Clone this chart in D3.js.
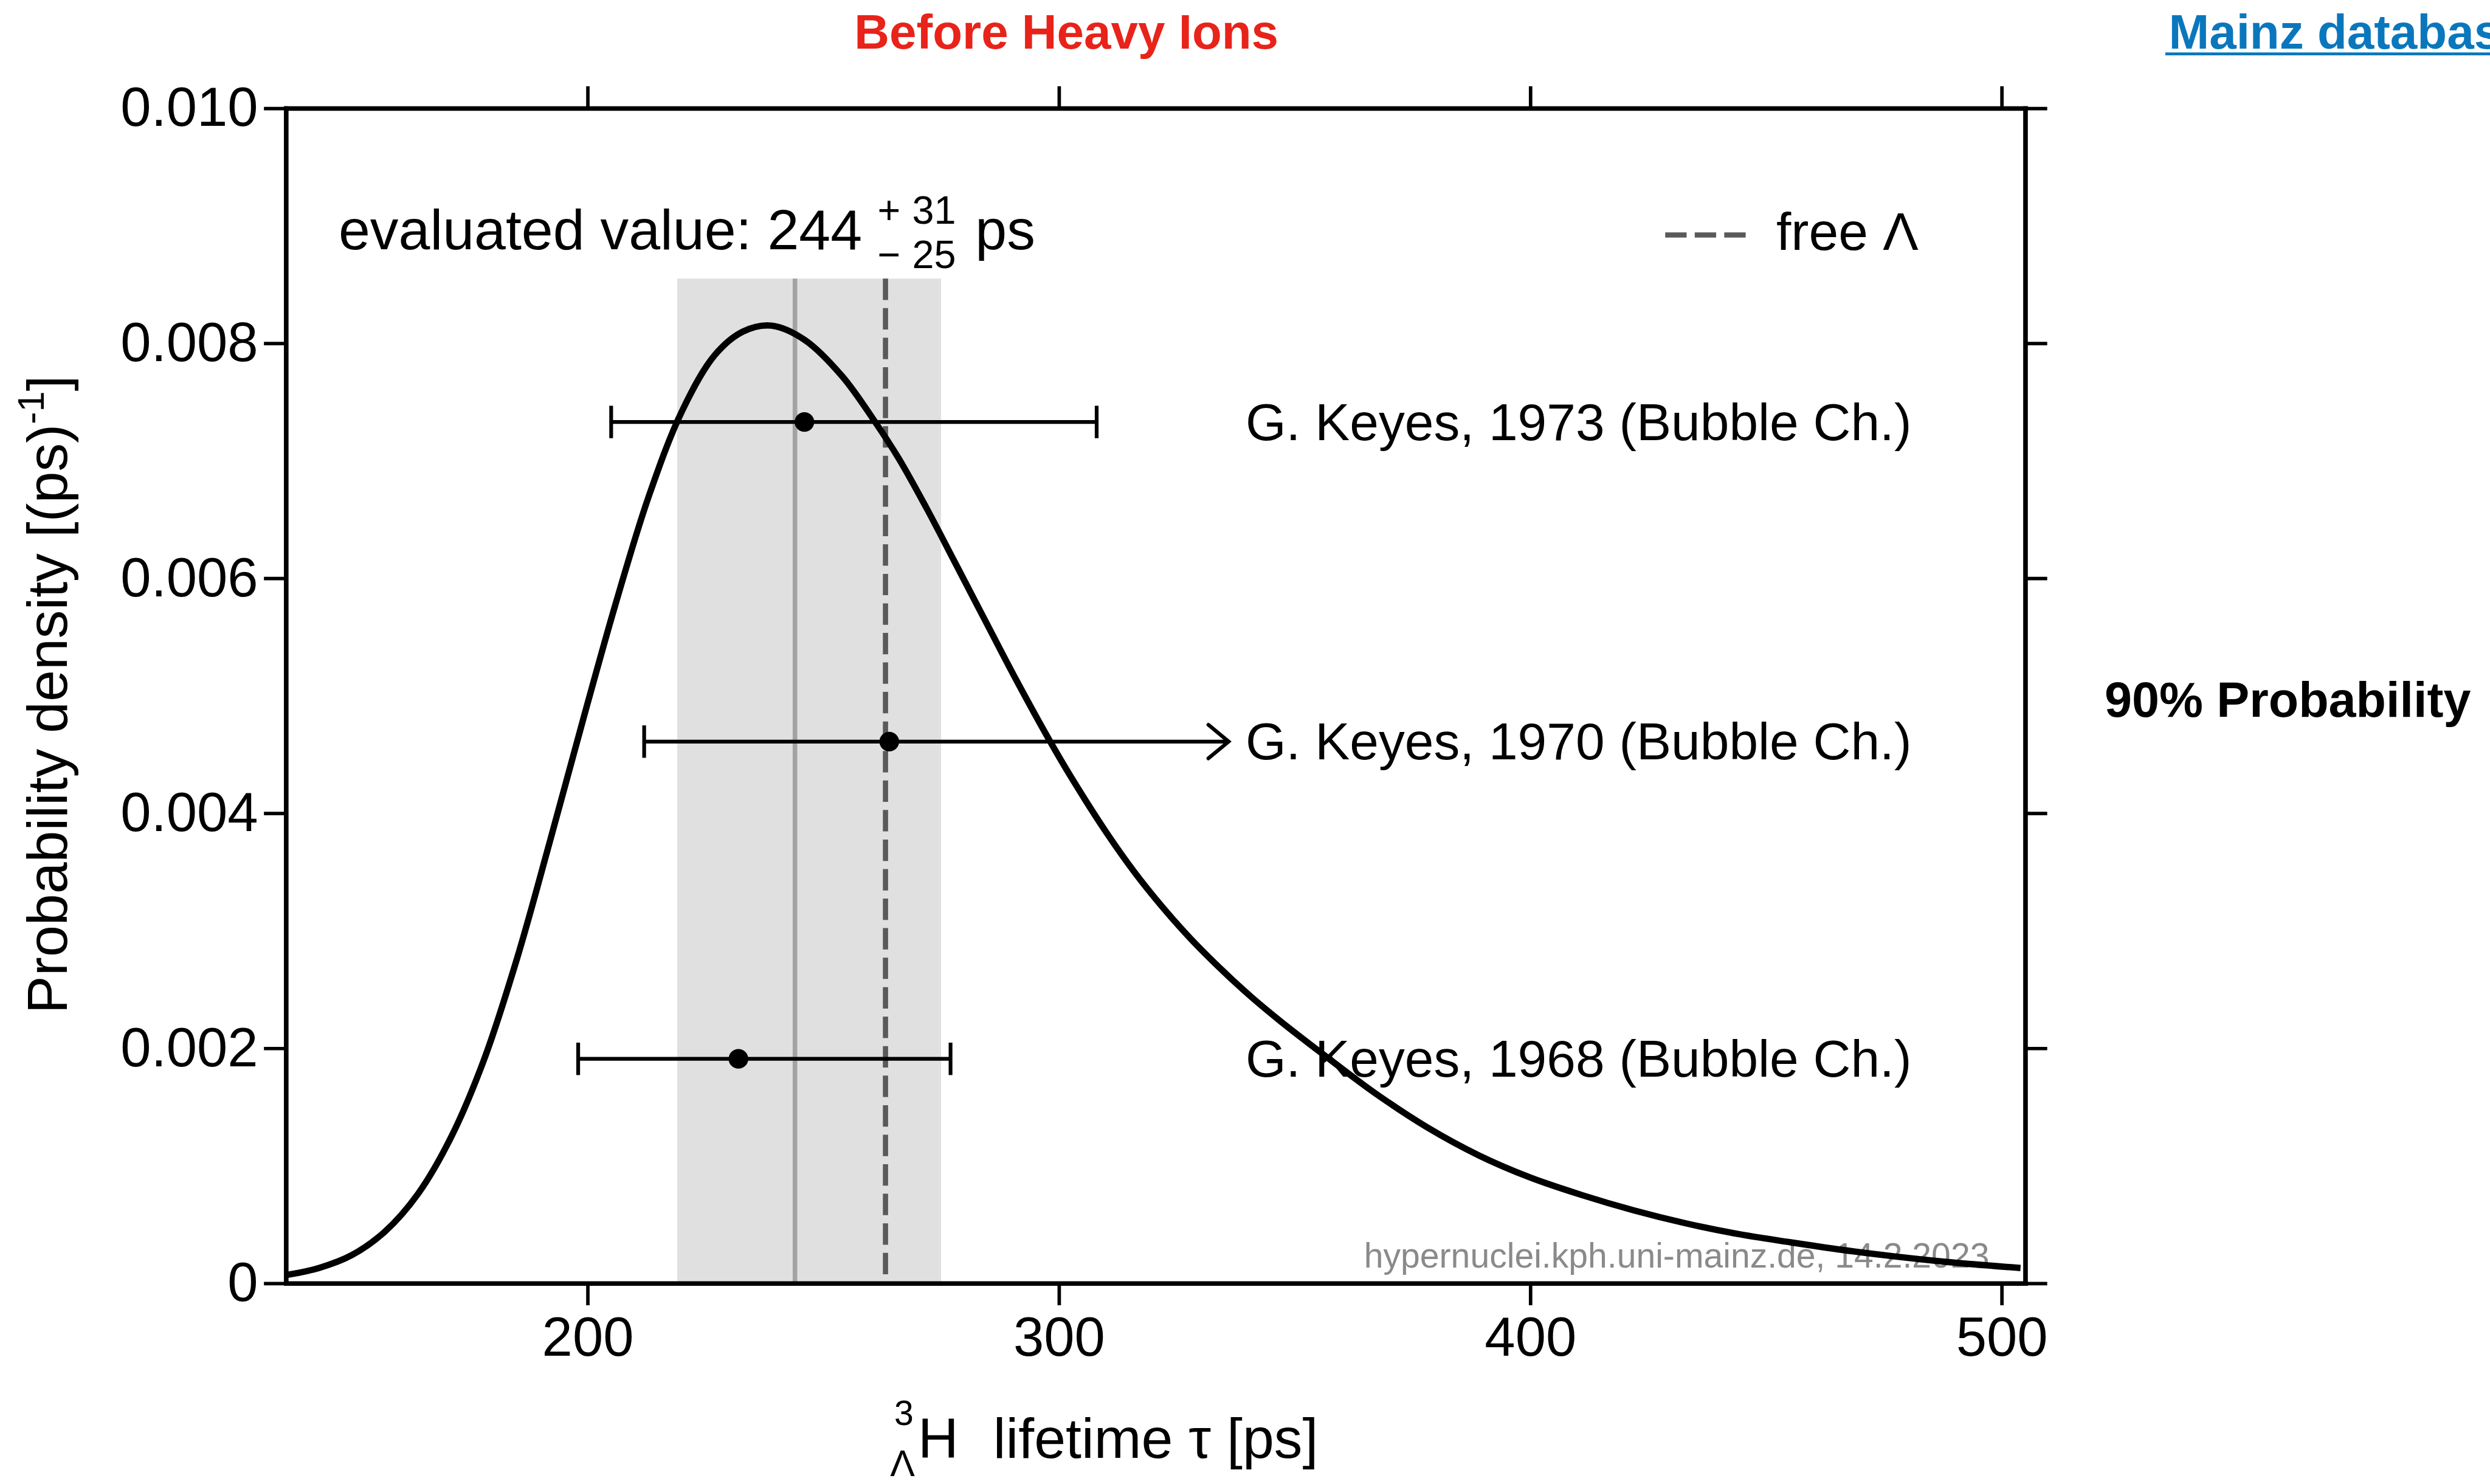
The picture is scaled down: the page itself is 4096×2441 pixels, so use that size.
<!DOCTYPE html>
<html>
<head>
<meta charset="utf-8">
<script src="https://cdn.jsdelivr.net/npm/d3@7"></script>
<style>
  html, body { margin: 0; padding: 0; background: #fff; overflow: hidden; }
  text { font-family: "Liberation Sans", Arial, Helvetica, sans-serif; }
</style>
</head>
<body>
<svg id="chart" width="4096" height="2441"></svg>
<script>
// Evaluated probability density of the hypertriton lifetime (τ in ps)
const tauGrid = [136, 143, 150, 157, 164, 171, 178, 185, 192, 199, 206, 213, 220, 227, 233, 239,
  246, 254, 261, 266, 272, 278, 285, 291, 298, 303, 310, 316, 322, 328, 335, 341, 347, 356,
  367, 378, 389, 400, 411, 422, 433, 444, 455, 466, 477, 488, 504];
const densityValues = [0.00007, 0.00013, 0.00024, 0.00044, 0.00076, 0.00124, 0.00190, 0.00276,
  0.00376, 0.00479, 0.00579, 0.00670, 0.00742, 0.00790, 0.00810, 0.00815,
  0.00803, 0.00772, 0.00733, 0.00702, 0.00659, 0.00613, 0.00559, 0.00513, 0.00462, 0.00428,
  0.00384, 0.00350, 0.00320, 0.00293, 0.00265, 0.00243, 0.00223, 0.00195,
  0.00162, 0.00133, 0.00109, 0.00090, 0.00075, 0.00062, 0.00051, 0.00042, 0.00035, 0.000285,
  0.00023, 0.000183, 0.00013];

// Individual measurements
const refLabels = ["G. Keyes, 1973 (Bubble Ch.)", "G. Keyes, 1970 (Bubble Ch.)", "G. Keyes, 1968 (Bubble Ch.)"];
const refValues = [246, 264, 232];
const refLow = [205, 212, 198];
const refHigh = [308, 336, 277];
const refOpenHigh = [false, true, false];
const refRowY = [0.00733, 0.00461, 0.00191];

// Evaluated value and its interval, free Λ lifetime
const evaluatedValue = 244;
const evaluatedPlus = 31;
const evaluatedMinus = 25;
const freeLambda = 263.2;
const bandTop = 0.00855;

const xTickValues = [200, 300, 400, 500];
const yTickValues = [0, 0.002, 0.004, 0.006, 0.008, 0.010];

// ---------------------------------------------------------------
const k = 4096 / 4302;
const svg = d3.select("#chart");
svg.append("rect").attr("width", 4096).attr("height", 2441).attr("fill", "#fff");
const root = svg.append("g").attr("transform", `scale(${k})`);

const x = d3.scaleLinear().domain([136, 505]).range([494, 3499]);
const y = d3.scaleLinear().domain([0, 0.010]).range([2217, 187]);

// interval band
root.append("rect")
  .attr("x", x(evaluatedValue - evaluatedMinus))
  .attr("width", x(evaluatedValue + evaluatedPlus) - x(evaluatedValue - evaluatedMinus))
  .attr("y", y(bandTop))
  .attr("height", y(0) - y(bandTop))
  .attr("fill", "#e0e0e0");

// evaluated central value
root.append("line")
  .attr("x1", x(evaluatedValue)).attr("x2", x(evaluatedValue))
  .attr("y1", y(bandTop)).attr("y2", y(0))
  .attr("stroke", "#a3a3a3").attr("stroke-width", 8);

// free Λ lifetime
root.append("line")
  .attr("x1", x(freeLambda)).attr("x2", x(freeLambda))
  .attr("y1", y(bandTop)).attr("y2", y(0))
  .attr("stroke", "#5a5a5a").attr("stroke-width", 9)
  .attr("stroke-dasharray", "37 14");

// source note
root.append("text")
  .attr("x", 3437).attr("y", 2190)
  .attr("text-anchor", "end")
  .attr("font-size", 60)
  .attr("fill", "#8a8a8a")
  .text("hypernuclei.kph.uni-mainz.de, 14.2.2023");

// density curve
const line = d3.line()
  .x(d => x(d[0]))
  .y(d => y(d[1]))
  .curve(d3.curveCatmullRom.alpha(0.5));
root.append("path")
  .datum(d3.zip(tauGrid, densityValues))
  .attr("d", line)
  .attr("fill", "none")
  .attr("stroke", "#000")
  .attr("stroke-width", 11)
  .attr("stroke-linecap", "butt")
  .attr("stroke-linejoin", "round");

// measurements with error bars
const capH = 28;
refLabels.forEach((label, i) => {
  const yy = y(refRowY[i]);
  const g = root.append("g").attr("stroke", "#000").attr("stroke-width", 6.5);
  g.append("line").attr("x1", x(refLow[i])).attr("x2", x(refHigh[i])).attr("y1", yy).attr("y2", yy);
  g.append("line").attr("x1", x(refLow[i])).attr("x2", x(refLow[i])).attr("y1", yy - capH).attr("y2", yy + capH);
  if (refOpenHigh[i]) {
    const xe = x(refHigh[i]);
    g.append("path")
      .attr("d", `M${xe - 35},${yy - 29}L${xe},${yy}L${xe - 35},${yy + 29}`)
      .attr("fill", "none").attr("stroke-linecap", "round");
  } else {
    g.append("line").attr("x1", x(refHigh[i])).attr("x2", x(refHigh[i])).attr("y1", yy - capH).attr("y2", yy + capH);
  }
  root.append("circle").attr("cx", x(refValues[i])).attr("cy", yy).attr("r", 17).attr("fill", "#000");
  root.append("text")
    .attr("x", 2152).attr("y", yy + 31)
    .attr("font-size", 90)
    .text(label);
});

// axes
const tickLen = 38;
const axisStyle = sel => {
  sel.selectAll(".domain").attr("stroke-width", 8).attr("stroke-linecap", "square");
  sel.selectAll(".tick line").attr("stroke-width", 6);
  sel.selectAll(".tick text").attr("font-size", 95).attr("fill", "#000")
    .style("font-family", '"Liberation Sans", Arial, Helvetica, sans-serif');
};
root.append("g").attr("transform", `translate(0,${y(0)})`)
  .call(d3.axisBottom(x).tickValues(xTickValues).tickSize(tickLen).tickSizeOuter(0).tickPadding(20).tickFormat(d3.format("d")))
  .call(axisStyle);
root.append("g").attr("transform", `translate(0,${y(0.010)})`)
  .call(d3.axisTop(x).tickValues(xTickValues).tickSize(tickLen).tickSizeOuter(0).tickFormat(""))
  .call(axisStyle);
root.append("g").attr("transform", `translate(${x(136)},0)`)
  .call(d3.axisLeft(y).tickValues(yTickValues).tickSize(tickLen).tickSizeOuter(0).tickPadding(10)
    .tickFormat(d => d === 0 ? "0" : d3.format(".3f")(d)))
  .call(axisStyle);
root.append("g").attr("transform", `translate(${x(505)},0)`)
  .call(d3.axisRight(y).tickValues(yTickValues).tickSize(tickLen).tickSizeOuter(0).tickFormat(""))
  .call(axisStyle);

// axis titles
const yTitle = root.append("text")
  .attr("transform", "translate(116,1200) rotate(-90)")
  .attr("text-anchor", "middle")
  .attr("font-size", 98);
yTitle.append("tspan").text("Probability density [(ps)");
yTitle.append("tspan").attr("font-size", 64).attr("dy", -40).text("-1");
yTitle.append("tspan").attr("dy", 40).text("]");

root.append("text").attr("x", 1545).attr("y", 2462).attr("font-size", 60).text("3");
root.append("text").attr("x", 1538).attr("y", 2550).attr("font-size", 64).text("Λ");
root.append("text").attr("x", 1586).attr("y", 2519).attr("font-size", 97).text("H");
root.append("text").attr("x", 1716).attr("y", 2519).attr("font-size", 98).text("lifetime τ [ps]");

// evaluated value annotation
root.append("text").attr("x", 585).attr("y", 431).attr("font-size", 98)
  .text(`evaluated value: ${evaluatedValue}`);
root.append("text").attr("x", 1516).attr("y", 386).attr("font-size", 68).text("+");
root.append("text").attr("x", 1576).attr("y", 386).attr("font-size", 68).text(String(evaluatedPlus));
root.append("text").attr("x", 1516).attr("y", 463).attr("font-size", 68).text("\u2212");
root.append("text").attr("x", 1576).attr("y", 463).attr("font-size", 68).text(String(evaluatedMinus));
root.append("text").attr("x", 1685).attr("y", 431).attr("font-size", 98).text("ps");

// legend for free Λ
root.append("line")
  .attr("x1", 2877).attr("x2", 3016).attr("y1", 406).attr("y2", 406)
  .attr("stroke", "#5a5a5a").attr("stroke-width", 9).attr("stroke-dasharray", "37 14");
root.append("text").attr("x", 3069).attr("y", 432).attr("font-size", 92).text("free Λ");

// headings
root.append("text").attr("x", 1476).attr("y", 84).attr("font-size", 84)
  .attr("font-weight", "bold").attr("fill", "#e8231a").text("Before Heavy Ions");
root.append("text").attr("x", 3747).attr("y", 84).attr("font-size", 84)
  .attr("font-weight", "bold").attr("fill", "#0a77bd").text("Mainz database");
root.append("line").attr("x1", 3741).attr("x2", 4400).attr("y1", 93).attr("y2", 93)
  .attr("stroke", "#0a77bd").attr("stroke-width", 5);
root.append("text").attr("x", 3636).attr("y", 1238).attr("font-size", 85)
  .attr("font-weight", "bold").attr("fill", "#000").text("90% Probability");
</script>
</body>
</html>
